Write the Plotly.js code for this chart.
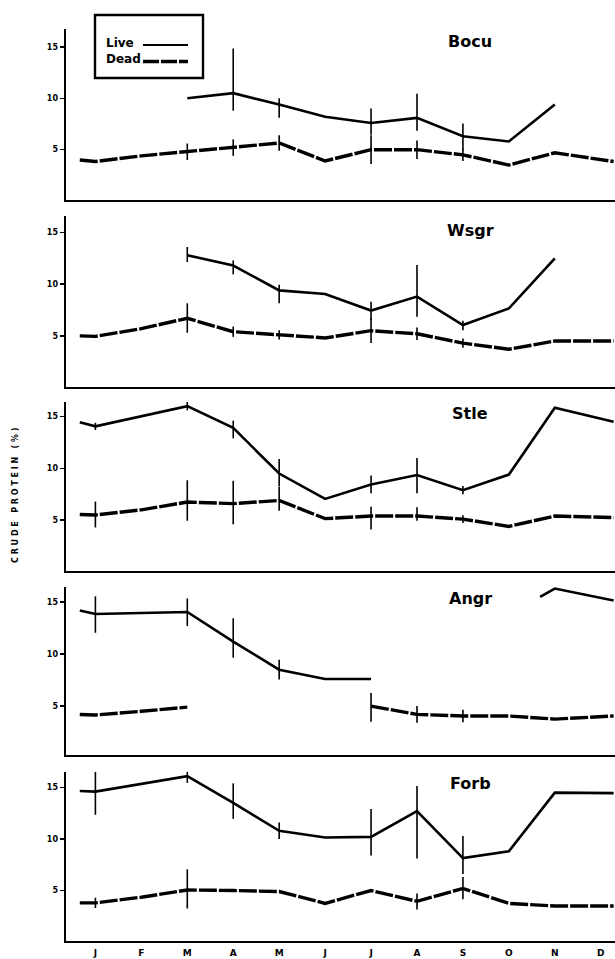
<!DOCTYPE html>
<html>
<head>
<meta charset="utf-8">
<script src="https://cdn.plot.ly/plotly-3.0.1.min.js"></script>
<style>
  html, body { margin: 0; padding: 0; background: #fff; }
  #chart { width: 615px; height: 959px; }
</style>
</head>
<body>
<div id="chart"></div>
<script>
// ---------------- DATA ----------------
var monthLabels = ['J','F','M','A','M','J','J','A','S','O','N','D'];
var monthTicks  = [1,2,3,4,5,6,7,8,9,10,11,12];
// sampling positions (month units): pre-Jan, J, F, M, A, M, J, J, A, S, O, N, end
var sampleX = [0.66, 1, 2, 3, 4, 5, 6, 7, 8, 9, 10, 11, 12.28];

var panelNames = ['Bocu','Wsgr','Stle','Angr','Forb'];

// Bocu
var bocuLive      = [null, null, null, 10.0, 10.5, 9.4, 8.2, 7.6, 8.1, 6.3, 5.8, 9.4, null];
var bocuLivePlus  = [0, 0, 0, 0, 4.35, 0.6, 0, 1.4, 2.35, 1.25, 0, 0, 0];
var bocuLiveMinus = [0, 0, 0, 0, 1.7, 1.3, 0, 1.15, 1.25, 1.3, 0, 0, 0];
var bocuDead      = [4.0, 3.85, 4.4, 4.8, 5.2, 5.65, 3.9, 5.0, 5.0, 4.5, 3.5, 4.7, 3.85];
var bocuDeadPlus  = [0, 0, 0, 0.8, 0.8, 0.75, 0, 1.4, 0.9, 0.6, 0, 0, 0];
var bocuDeadMinus = [0, 0, 0, 0.8, 0.8, 0.75, 0, 1.4, 0.9, 0.6, 0, 0, 0];

// Wsgr
var wsgrLive      = [null, null, null, 12.8, 11.8, 9.4, 9.05, 7.45, 8.8, 6.05, 7.65, 12.5, null];
var wsgrLivePlus  = [0, 0, 0, 0.8, 0.5, 0.55, 0, 0.85, 3.05, 0.4, 0, 0, 0];
var wsgrLiveMinus = [0, 0, 0, 0.65, 0.85, 1.25, 0, 0.95, 1.95, 0.5, 0, 0, 0];
var wsgrDead      = [5.0, 4.95, 5.7, 6.7, 5.4, 5.1, 4.8, 5.5, 5.2, 4.3, 3.7, 4.5, 4.5];
var wsgrDeadPlus  = [0, 0, 0, 1.45, 0.5, 0.45, 0, 1.2, 0.6, 0.45, 0, 0, 0];
var wsgrDeadMinus = [0, 0, 0, 1.4, 0.5, 0.45, 0, 1.2, 0.6, 0.45, 0, 0, 0];

// Stle
var stleLive      = [14.45, 14.05, null, 16.0, 13.9, 9.5, 7.05, 8.45, 9.35, 7.9, 9.4, 15.85, 14.5];
var stleLivePlus  = [0, 0.35, 0, 0.4, 0.7, 1.4, 0, 0.85, 1.65, 0.4, 0, 0, 0];
var stleLiveMinus = [0, 0.35, 0, 0.4, 1.0, 1.25, 0, 0.85, 1.75, 0.4, 0, 0, 0];
var stleDead      = [5.55, 5.5, 6.0, 6.75, 6.6, 6.9, 5.15, 5.4, 5.4, 5.1, 4.4, 5.4, 5.25];
var stleDeadPlus  = [0, 1.3, 0, 2.1, 2.2, 1.3, 0, 0.9, 0.85, 0.37, 0, 0, 0];
var stleDeadMinus = [0, 1.2, 0, 1.8, 2.0, 1.0, 0, 1.3, 0.45, 0.38, 0, 0, 0];

// Angr
var angrLive      = [14.2, 13.85, null, 14.05, 11.2, 8.5, 7.6, 7.6, null, null, null, null, null];
var angrLivePlus  = [0, 1.7, 0, 1.3, 2.25, 0.95, 0, 0, 0, 0, 0, 0, 0];
var angrLiveMinus = [0, 1.8, 0, 1.35, 1.55, 0.95, 0, 0, 0, 0, 0, 0, 0];
var angrLateX     = [10.68, 11, 12.28];
var angrLateLive  = [15.5, 16.3, 15.15];
var angrDead      = [4.2, 4.15, 4.5, 4.9, null, null, null, 5.0, 4.2, 4.05, 4.05, 3.75, 4.05];
var angrDeadPlus  = [0, 0, 0, 0, 0, 0, 0, 1.25, 0.8, 0.6, 0, 0, 0];
var angrDeadMinus = [0, 0, 0, 0, 0, 0, 0, 1.5, 0.8, 0.6, 0, 0, 0];

// Forb
var forbLive      = [14.65, 14.6, null, 16.1, 13.5, 10.8, 10.15, 10.2, 12.7, 8.15, 8.8, 14.5, 14.45];
var forbLivePlus  = [0, 2.2, 0, 0.65, 1.9, 0.8, 0, 2.7, 2.45, 2.15, 0, 0, 0];
var forbLiveMinus = [0, 2.25, 0, 0.65, 1.55, 0.8, 0, 1.8, 4.6, 1.55, 0, 0, 0];
var forbDead      = [3.8, 3.8, 4.35, 5.05, 5.0, 4.9, 3.75, 5.0, 3.95, 5.2, 3.75, 3.5, 3.5];
var forbDeadPlus  = [0, 0.5, 0, 2.0, 0, 0, 0, 0, 0.75, 1.1, 0, 0, 0];
var forbDeadMinus = [0, 0.5, 0, 1.8, 0, 0, 0, 0, 0.8, 1.05, 0, 0, 0];

var yTicks = [5, 10, 15];
var yTitle = 'CRUDE PROTEIN (%)';
var legendNames = ['Live', 'Dead'];

// ---------------- LAYOUT HELPERS ----------------
var W = 615, H = 959;
function fx(p) { return p / W; }
function fy(p) { return 1 - p / H; }

var panelPx = [[29, 200], [216, 387], [402, 571], [587, 755], [772, 941]];
var panelRange = [[0.1, 16.75], [0.05, 16.6], [0.1, 16.4], [0.3, 16.45], [0.1, 16.5]];
var titleY = [41, 230, 414, 598, 783];

var HEAVY = 'DejaVu Sans, Liberation Sans, Arial, sans-serif';
var liveStyle = {color: '#000', width: 2.6};
var deadStyle = {color: '#000', width: 3.4, dash: '18px,2px'};
function errSpec(plus, minus) {
  return {type: 'data', symmetric: false, array: plus, arrayminus: minus,
          color: '#000', thickness: 1.6, width: 0, visible: true};
}

var series = [
  [bocuLive, bocuLivePlus, bocuLiveMinus, bocuDead, bocuDeadPlus, bocuDeadMinus],
  [wsgrLive, wsgrLivePlus, wsgrLiveMinus, wsgrDead, wsgrDeadPlus, wsgrDeadMinus],
  [stleLive, stleLivePlus, stleLiveMinus, stleDead, stleDeadPlus, stleDeadMinus],
  [angrLive, angrLivePlus, angrLiveMinus, angrDead, angrDeadPlus, angrDeadMinus],
  [forbLive, forbLivePlus, forbLiveMinus, forbDead, forbDeadPlus, forbDeadMinus]
];

var traces = [];
var layout = {
  width: W, height: H,
  margin: {l: 0, r: 0, t: 0, b: 0},
  paper_bgcolor: '#fff', plot_bgcolor: '#fff',
  showlegend: false,
  font: {family: 'Liberation Sans, Arial, sans-serif', color: '#000'},
  annotations: [], shapes: []
};

for (var i = 0; i < 5; i++) {
  var s = series[i];
  var xa = 'x' + (i === 0 ? '' : (i + 1));
  var ya = 'y' + (i === 0 ? '' : (i + 1));
  // dead: gaps kept (Angr has a real break); live: line runs straight across unsampled February
  traces.push({x: sampleX, y: s[3], xaxis: xa, yaxis: ya, mode: 'lines', name: legendNames[1],
               line: deadStyle, error_y: errSpec(s[4], s[5]), connectgaps: false, hoverinfo: 'skip'});
  traces.push({x: sampleX, y: s[0], xaxis: xa, yaxis: ya, mode: 'lines', name: legendNames[0],
               line: liveStyle, error_y: errSpec(s[1], s[2]), connectgaps: true, hoverinfo: 'skip'});
  if (i === 3) {
    traces.push({x: angrLateX, y: angrLateLive, xaxis: xa, yaxis: ya, mode: 'lines', name: legendNames[0],
                 line: liveStyle, hoverinfo: 'skip'});
  }
  var xKey = 'xaxis' + (i === 0 ? '' : (i + 1));
  var yKey = 'yaxis' + (i === 0 ? '' : (i + 1));
  layout[xKey] = {
    domain: [fx(66), 1], anchor: ya, range: [0.36, 12.31],
    showline: true, linecolor: '#000', linewidth: 2.4, mirror: false,
    showgrid: false, zeroline: false, ticks: '',
    tickmode: 'array', tickvals: monthTicks, ticktext: monthLabels,
    showticklabels: i === 4, ticklabelstandoff: 2,
    tickfont: {size: 9, family: HEAVY, weight: 'bold', color: '#000'},
    fixedrange: true
  };
  layout[yKey] = {
    domain: [fy(panelPx[i][1]), fy(panelPx[i][0])], anchor: xa, range: panelRange[i],
    showline: true, linecolor: '#000', linewidth: 2.4,
    showgrid: false, zeroline: false,
    ticks: 'outside', ticklen: 4, tickwidth: 1.6, tickcolor: '#000',
    tickmode: 'array', tickvals: yTicks, ticktext: yTicks.map(String),
    tickfont: {size: 8, family: HEAVY, weight: 'bold', color: '#000'},
    fixedrange: true
  };
  layout.annotations.push({
    xref: 'paper', yref: 'paper', x: fx(470), y: fy(titleY[i]),
    xanchor: 'center', yanchor: 'middle', showarrow: false,
    text: '<b>' + panelNames[i] + '</b>',
    font: {size: 16, family: HEAVY, color: '#000'}
  });
}

// y-axis title (letter-spaced)
var spaced = yTitle.split(' ').map(function (w) { return w.split('').join('\u00A0'); }).join('\u00A0\u00A0\u00A0');
layout.annotations.push({
  xref: 'paper', yref: 'paper', x: fx(15), y: fy(495), xanchor: 'center', yanchor: 'middle',
  showarrow: false, textangle: -90,
  text: '<b>' + spaced + '</b>',
  font: {size: 8, family: HEAVY, color: '#000'}
});

// legend (drawn manually: text left of line sample)
layout.shapes.push({type: 'rect', xref: 'paper', yref: 'paper',
  x0: fx(95), x1: fx(203), y0: fy(78), y1: fy(15), line: {color: '#000', width: 2.4}});
layout.shapes.push({type: 'line', xref: 'paper', yref: 'paper',
  x0: fx(143), x1: fx(188), y0: fy(45), y1: fy(45), line: {color: '#000', width: 2.2}});
layout.shapes.push({type: 'line', xref: 'paper', yref: 'paper',
  x0: fx(143), x1: fx(188), y0: fy(61.5), y1: fy(61.5), line: {color: '#000', width: 3.4, dash: '16px,2px'}});
layout.annotations.push({xref: 'paper', yref: 'paper', x: fx(104), y: fy(42.5), xanchor: 'left', yanchor: 'middle',
  showarrow: false, text: '<b>' + legendNames[0] + '</b>', font: {size: 12, family: HEAVY, color: '#000'}});
layout.annotations.push({xref: 'paper', yref: 'paper', x: fx(104), y: fy(59.5), xanchor: 'left', yanchor: 'middle',
  showarrow: false, text: '<b>' + legendNames[1] + '</b>', font: {size: 12, family: HEAVY, color: '#000'}});

Plotly.newPlot('chart', traces, layout, {staticPlot: true, displayModeBar: false});
</script>
</body>
</html>
